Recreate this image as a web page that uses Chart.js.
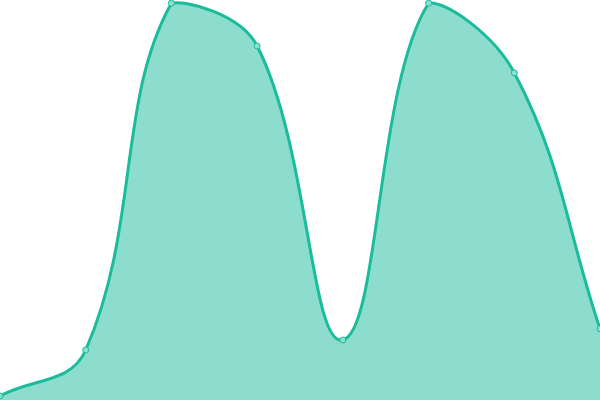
<!DOCTYPE html>
<html>
<head>
<meta charset="utf-8">
<script src="https://cdn.jsdelivr.net/npm/chart.js@4"></script>
<style>
html,body{margin:0;padding:0;background:#fff;}
#wrap{width:600px;height:400px;}
</style>
</head>
<body>
<div id="wrap"><canvas id="c" width="600" height="400"></canvas></div>
<script>
const categories = ["1", "2", "3", "4", "5", "6", "7", "8"];
const values = [1, 12.5, 99.2, 88.5, 15, 99.2, 81.8, 17.8];
const yMin = 0;
const yMax = 100;

new Chart(document.getElementById('c'), {
  type: 'line',
  data: {
    labels: categories,
    datasets: [{
      data: values,
      fill: true,
      backgroundColor: 'rgba(26,188,156,0.5)',
      borderColor: '#1abc9c',
      borderWidth: 3,
      tension: 0.4,
      pointRadius: 3,
      pointBackgroundColor: '#8ddfcf',
      pointBorderColor: '#1abc9c',
      pointBorderWidth: 1
    }]
  },
  options: {
    responsive: false,
    animation: false,
    devicePixelRatio: 1,
    layout: { padding: 0, autoPadding: false },
    plugins: { legend: { display: false }, tooltip: { enabled: false } },
    scales: {
      x: { display: false },
      y: { display: false, min: yMin, max: yMax }
    }
  }
});
</script>
</body>
</html>
